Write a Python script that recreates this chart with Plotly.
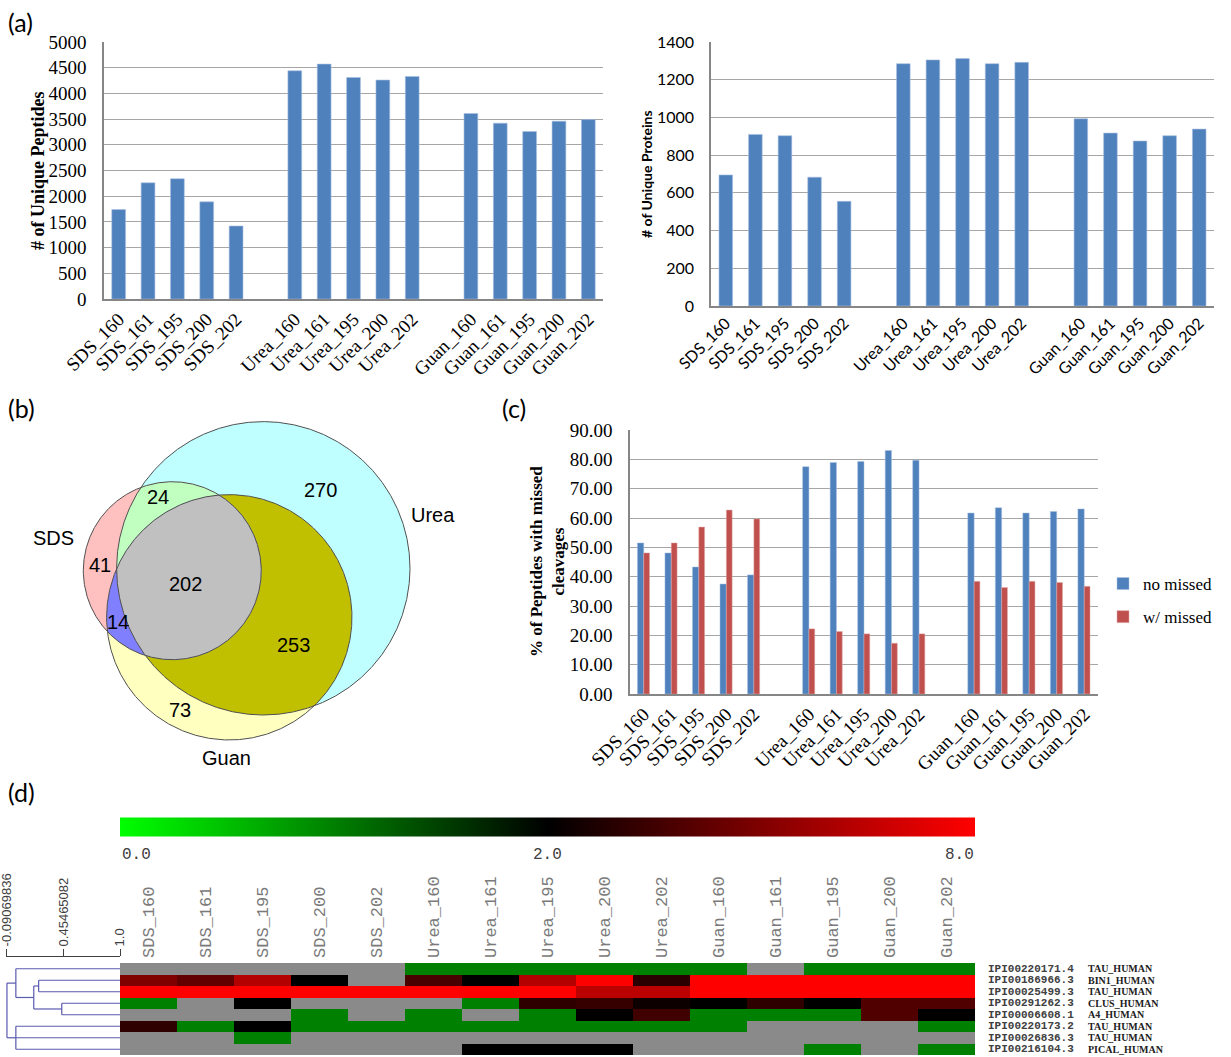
import numpy as np
import plotly.graph_objects as go

W, H = 1231, 1057


def X(px):
    return px / W


def Y(py):
    return 1 - py / H


# ---------------- data ----------------
categories = ["SDS_160", "SDS_161", "SDS_195", "SDS_200", "SDS_202",
              "Urea_160", "Urea_161", "Urea_195", "Urea_200", "Urea_202",
              "Guan_160", "Guan_161", "Guan_195", "Guan_200", "Guan_202"]

unique_peptides = [1740, 2260, 2340, 1890, 1420,
                   4440, 4570, 4310, 4260, 4330,
                   3610, 3420, 3260, 3460, 3490]

unique_proteins = [695, 910, 903, 683, 555,
                   1285, 1305, 1312, 1285, 1292,
                   993, 917, 875, 903, 938]

no_missed = [51.5, 48.1, 43.3, 37.5, 40.6,
             77.5, 78.9, 79.3, 83.0, 79.7,
             61.7, 63.5, 61.7, 62.2, 63.1]
w_missed = [48.1, 51.5, 56.9, 62.7, 59.7,
            22.2, 21.3, 20.5, 17.3, 20.5,
            38.4, 36.3, 38.4, 38.0, 36.7]

venn_labels = ["SDS", "Urea", "Guan"]
venn_counts = {"41": "SDS only", "24": "SDS&Urea", "202": "all",
               "14": "SDS&Guan", "253": "Urea&Guan", "270": "Urea only",
               "73": "Guan only"}

heat_ids = ["IPI00220171.4", "IPI00186966.3", "IPI00025499.3", "IPI00291262.3",
            "IPI00006608.1", "IPI00220173.2", "IPI00026836.3", "IPI00216104.3"]
heat_names = ["TAU_HUMAN", "BIN1_HUMAN", "TAU_HUMAN", "CLUS_HUMAN",
              "A4_HUMAN", "TAU_HUMAN", "TAU_HUMAN", "PICAL_HUMAN"]
N = None
heat_ratios = [
    [N, N, N, N, N, 1, 1, 1, 1, 1, 1, N, 1, 1, 1],
    [5.0, 4.3, 6.2, 2.0, N, 3.7, 2.0, 6.2, 8, 3.0, 8, 8, 8, 8, 8],
    [8, 8, 8, 8, 8, 8, 8, 8, 6.4, 6.4, 8, 8, 8, 8, 8],
    [1, N, 2.0, N, N, N, 1, 3.1, 3.3, 2.3, 2.0, 3.1, 2.0, 3.9, 3.9],
    [N, N, N, 1, N, 1, N, 1, 2.0, 3.5, 1, 1, 1, 3.9, 2.0],
    [3.1, 1, 2.0, 1, 1, 1, 1, 1, 1, 1, 1, N, N, N, 1],
    [N, N, 1, N, N, N, N, N, N, N, N, N, N, N, N],
    [N, N, N, N, N, N, 2.0, 2.0, 2.0, N, N, N, 1, N, 1],
]
colorbar_ticks = ["0.0", "2.0", "8.0"]

dendro_ticks = [-0.09069836, 0.45465082, 1.0]
dendro_ticktext = ["-0.09069836", "0.45465082", "1.0"]
dendro_merges = [
    ("n23", ["r1", "r2"], 0.215),
    ("n45", ["r3", "r4"], 0.438),
    ("n2345", ["n23", "n45"], 0.168),
    ("top", ["r0", "n2345"], -0.005),
    ("bottom", ["r5", "r6", "r7"], -0.005),
    ("root", ["top", "bottom"], -0.0907),
]

# ---------------- styling ----------------
BLUE = "#4F81BD"
RED = "#C0504D"
GRID = "#a6a6a6"
AXIS = "#868686"
SERIF = "Liberation Serif"
SANS = "Lato"

pos = [i + i // 5 for i in range(len(categories))]

fig = go.Figure()

fig.add_trace(go.Bar(x=pos, y=unique_peptides, xaxis="x", yaxis="y",
                     marker=dict(color=BLUE, line=dict(color="#a9c0e0", width=0.6)),
                     width=0.47, showlegend=False))
fig.add_trace(go.Bar(x=pos, y=unique_proteins, xaxis="x2", yaxis="y2",
                     marker=dict(color=BLUE, line=dict(color="#a9c0e0", width=0.6)),
                     width=0.46, showlegend=False))
fig.add_trace(go.Bar(x=pos, y=no_missed, xaxis="x4", yaxis="y4", name="no missed",
                     marker=dict(color=BLUE, line=dict(color="#a9c0e0", width=0.5)),
                     width=0.23, offset=-0.23, legendgroup="a"))
fig.add_trace(go.Bar(x=pos, y=w_missed, xaxis="x4", yaxis="y4", name="w/ missed",
                     marker=dict(color=RED, line=dict(color="#e0a9a8", width=0.5)),
                     width=0.21, offset=0.0, legendgroup="b"))

# ---------------- (b) Venn ----------------
venn_geom = {"SDS": (172.3, 570.7, 89.0),
             "Urea": (263.3, 568.3, 146.7),
             "Guan": (229.3, 617.3, 122.7)}


def region(names):
    pts = []
    for n in names:
        cx, cy, r = venn_geom[n]
        t = np.linspace(0, 2 * np.pi, 1440, endpoint=False)
        px, py = cx + r * np.cos(t), cy + r * np.sin(t)
        keep = np.ones_like(px, dtype=bool)
        for m in names:
            if m == n:
                continue
            ox, oy, orr = venn_geom[m]
            keep &= (px - ox) ** 2 + (py - oy) ** 2 <= orr ** 2 + 1e-6
        pts.append(np.c_[px[keep], py[keep]])
    pts = np.vstack(pts)
    c = pts.mean(axis=0)
    order = np.argsort(np.arctan2(pts[:, 1] - c[1], pts[:, 0] - c[0]))
    pts = pts[order]
    return np.r_[pts[:, 0], pts[0, 0]], np.r_[pts[:, 1], pts[0, 1]]


venn_fills = [(["Urea"], "#C0FFFF"), (["Guan"], "#FFFFC0"), (["SDS"], "#FFC0C0"),
              (["Urea", "Guan"], "#C0C000"), (["SDS", "Urea"], "#C0FFC0"),
              (["SDS", "Guan"], "#8080FF"), (["SDS", "Urea", "Guan"], "#C0C0C0")]
for names, col in venn_fills:
    vx, vy = region(names)
    fig.add_trace(go.Scatter(x=vx, y=vy, xaxis="x3", yaxis="y3", mode="lines",
                             fill="toself", fillcolor=col, line=dict(width=0),
                             hoverinfo="skip", showlegend=False))
for n in venn_labels:
    vx, vy = region([n])
    fig.add_trace(go.Scatter(x=vx, y=vy, xaxis="x3", yaxis="y3", mode="lines",
                             line=dict(color="#505050", width=1),
                             hoverinfo="skip", showlegend=False))


# ---------------- (d) heatmap ----------------
def to_pos(r):
    if r is None:
        return np.nan
    return r / 4.0 if r <= 2 else 0.5 + (r - 2) / 12.0


z = np.array([[to_pos(v) for v in row] for row in heat_ratios], dtype=float)
fig.add_trace(go.Heatmap(
    z=z, x=list(range(len(categories))), y=list(range(len(heat_ids))),
    xaxis="x5", yaxis="y5", zmin=0, zmax=1,
    colorscale=[[0, "#00ff00"], [0.5, "#000000"], [1, "#ff0000"]],
    hoverongaps=False,
    colorbar=dict(orientation="h", x=X((120 + 975) / 2), xanchor="center",
                  y=Y(826.5), yanchor="middle", len=(975 - 120) / W, lenmode="fraction",
                  thickness=19, thicknessmode="pixels", outlinewidth=0,
                  showticklabels=False, ticks="", xpad=0, ypad=0)))

node_pos = {f"r{i}": (1.0, i) for i in range(len(heat_ids))}
dx, dy = [], []
for name, members, level in dendro_merges:
    ys = [node_pos[m][1] for m in members]
    for m in members:
        mx, my = node_pos[m]
        dx += [mx, level, None]
        dy += [my, my, None]
    dx += [level, level, None]
    dy += [min(ys), max(ys), None]
    node_pos[name] = (level, (min(ys) + max(ys)) / 2)
fig.add_trace(go.Scatter(x=dx, y=dy, xaxis="x6", yaxis="y6", mode="lines",
                         line=dict(color="#5a5ab0", width=1.2),
                         hoverinfo="skip", showlegend=False))


# ---------------- layout ----------------
def cat_axis(domain, font, size, rng=(-0.5, 16.5)):
    return dict(domain=[X(domain[0]), X(domain[1])], range=list(rng),
                tickvals=pos, ticktext=categories, tickangle=-45,
                tickfont=dict(family=font, size=size, color="black"),
                showline=True, linecolor=AXIS, linewidth=1.5, showgrid=False,
                zeroline=False, ticks="", automargin=False)


def val_axis(domain, rng, dtick, font, size, fmt=None, standoff=12):
    d = dict(domain=[Y(domain[1]), Y(domain[0])], range=list(rng), dtick=dtick,
             tickfont=dict(family=font, size=size, color="black"),
             showline=True, linecolor=AXIS, linewidth=1.5,
             showgrid=True, gridcolor=GRID, gridwidth=1.3, zeroline=False,
             ticks="", ticklabelstandoff=standoff, automargin=False)
    if fmt:
        d["tickformat"] = fmt
    return d


layout = dict(
    template="none",
    width=W, height=H, margin=dict(l=0, r=0, t=0, b=0, autoexpand=False),
    paper_bgcolor="white", plot_bgcolor="white", barmode="overlay",
    xaxis=cat_axis((104, 603), SERIF, 19),
    yaxis=val_axis((42, 299), (0, 5000), 500, SERIF, 19, standoff=12),
    xaxis2=dict(cat_axis((711, 1214), SANS, 16), anchor="y2"),
    yaxis2=dict(val_axis((42, 306), (0, 1400), 200, SANS, 16, standoff=12), anchor="x2"),
    xaxis3=dict(domain=[X(0), X(470)], range=[0, 470], visible=False, anchor="y3",
                automargin=False),
    yaxis3=dict(domain=[Y(780), Y(390)], range=[780, 390], visible=False, anchor="x3",
                automargin=False),
    xaxis4=dict(cat_axis((630, 1098), SERIF, 19), anchor="y4"),
    yaxis4=dict(val_axis((430, 694), (0, 90), 10, SERIF, 19, fmt=".2f", standoff=12), anchor="x4"),
    xaxis5=dict(domain=[X(120), X(975)], range=[-0.5, 14.5], side="top", anchor="y5",
                tickvals=list(range(len(categories))), ticktext=categories,
                tickangle=-90, ticks="", showgrid=False, zeroline=False, showline=False,
                tickfont=dict(family="Liberation Mono", size=17, color="#7a7a7a"),
                ticklabelstandoff=4, automargin=False),
    yaxis5=dict(domain=[Y(1055), Y(963)], range=[7.5, -0.5], visible=False, anchor="x5",
                automargin=False),
    xaxis6=dict(domain=[X(6.0), X(120)], range=[-0.1, 1.0], side="top", anchor="y6",
                tickvals=dendro_ticks, ticktext=dendro_ticktext, tickangle=-90,
                ticks="outside", ticklen=7, tickcolor="#404040", tickwidth=1,
                showline=True, linecolor="#404040", linewidth=1, showgrid=False,
                zeroline=False, automargin=False, ticklabeloverflow="allow",
                tickfont=dict(family="Liberation Sans", size=13, color="#404040")),
    yaxis6=dict(domain=[Y(1055), Y(957)], range=[7.5, -1.02], visible=False, anchor="x6",
                automargin=False),
    legend=dict(x=X(1103), y=Y(566), xanchor="left", yanchor="top",
                font=dict(family=SERIF, size=17, color="black"),
                bgcolor="rgba(0,0,0,0)", tracegroupgap=8, itemwidth=30),
    showlegend=True,
)
fig.update_layout(**layout)

ann = []
for txt, px, py in [("(a)", 6, 22), ("(b)", 6, 408), ("(c)", 500, 408), ("(d)", 6, 792)]:
    ann.append(dict(text=txt, x=X(px), y=Y(py), xref="paper", yref="paper",
                    xanchor="left", yanchor="middle", showarrow=False,
                    font=dict(family=SANS, size=25, color="black")))
ann.append(dict(text="<b># of Unique Peptides</b>", x=X(38), y=Y(171), xref="paper", yref="paper",
                xanchor="center", yanchor="middle",
                textangle=-90, showarrow=False, font=dict(family=SERIF, size=18, color="black")))
ann.append(dict(text="<b># of Unique Proteins</b>", x=X(647), y=Y(174), xref="paper", yref="paper",
                xanchor="center", yanchor="middle",
                textangle=-90, showarrow=False, font=dict(family=SANS, size=14, color="black")))
ann.append(dict(text="<b>% of Peptides with missed<br>cleavages</b>", x=X(547), y=Y(562),
                xref="paper", yref="paper", textangle=-90, showarrow=False,
                xanchor="center", yanchor="middle",
                font=dict(family=SERIF, size=17, color="black")))
venn_text_pos = {"SDS": (53, 538), "Urea": (433, 515), "Guan": (226, 758),
                 "41": (100, 565), "24": (158, 497), "202": (185, 584), "14": (118, 622),
                 "253": (293, 645), "270": (320, 490), "73": (180, 710)}
for key in venn_labels + list(venn_counts.keys()):
    px, py = venn_text_pos[key]
    ann.append(dict(text=key, x=px, y=py, xref="x3", yref="y3", showarrow=False,
                    xanchor="center", yanchor="middle",
                    font=dict(family="Liberation Sans", size=20, color="black")))
for txt, px, anc in zip(colorbar_ticks, [120, 547, 976], ["left", "center", "right"]):
    ann.append(dict(text=txt, x=X(px), y=Y(855), xref="paper", yref="paper",
                    xanchor=anc, yanchor="middle", showarrow=False,
                    font=dict(family="Liberation Mono", size=16, color="#404040")))
for i, (pid, nm) in enumerate(zip(heat_ids, heat_names)):
    ann.append(dict(text="<b>" + pid + "</b>", x=X(986), y=i, xref="paper", yref="y5",
                    xanchor="left", yanchor="middle", showarrow=False,
                    font=dict(family="Liberation Mono", size=11, color="#404040")))
    ann.append(dict(text="<b>" + nm + "</b>", x=X(1086), y=i, xref="paper", yref="y5",
                    xanchor="left", yanchor="middle", showarrow=False,
                    font=dict(family="Liberation Serif", size=10, color="#202020")))
fig.update_layout(annotations=ann)

fig.add_shape(type="rect", xref="x5 domain", yref="y5 domain", x0=0, x1=1, y0=0, y1=1,
              fillcolor="#8a8a8a", line=dict(width=0), layer="below")

fig.write_html("out.html", config={"displayModeBar": False},
               post_script="document.documentElement.style.margin='0';"
                           "document.body.style.margin='0';document.body.style.padding='0';"
                           "document.body.style.overflow='hidden';")
